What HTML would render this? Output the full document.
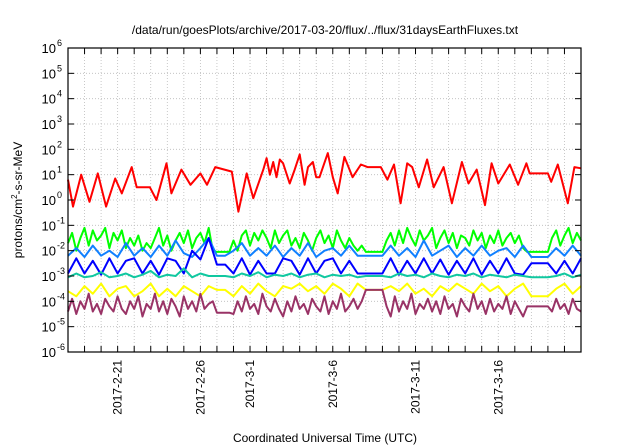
<!DOCTYPE html>
<html><head><meta charset="utf-8"><style>
html,body{margin:0;padding:0;background:#fff;}
svg{display:block;font-family:"Liberation Sans",sans-serif;}
</style></head><body>
<svg id="chart" width="640" height="448" viewBox="0 0 640 448" xmlns="http://www.w3.org/2000/svg">
<text x="325" y="34" font-size="12" text-anchor="middle">/data/run/goesPlots/archive/2017-03-20/flux/../flux/31daysEarthFluxes.txt</text>
<text x="325" y="442" font-size="12" text-anchor="middle">Coordinated Universal Time (UTC)</text>
<text transform="translate(22,200) rotate(-90)" font-size="12" text-anchor="middle">protons/cm<tspan dy="-5" font-size="8">2</tspan><tspan dy="5">-s-sr-MeV</tspan></text>
<g id="grid"></g><g id="series"></g><g id="axes"></g>
</svg>
<script>
const yDecades=[-6,-5,-4,-3,-2,-1,0,1,2,3,4,5,6];
const xTickDays=[3,8,11,16,21,26];
const xTickLabels=["2017-2-21","2017-2-26","2017-3-1","2017-3-6","2017-3-11","2017-3-16"];
const redT=[0,0.3,0.8,1.3,1.8,2.3,2.85,3.25,3.85,4.15,4.95,5.35,5.95,6.25,6.85,7.4,8.0,8.4,8.9,9.9,10.3,10.8,11.2,11.8,12.0,12.2,12.4,12.6,12.8,13.0,13.4,13.7,14.0,14.3,14.5,14.8,15.0,15.2,15.7,16.0,16.3,16.7,17.2,17.7,18.1,18.9,19.3,19.7,20.1,20.5,20.8,21.2,21.7,22.1,22.7,23.2,23.8,24.2,24.7,25.2,25.6,26.0,26.7,27.2,27.7,27.9,29.0,29.2,29.6,30.2,30.6,31];
const redV=[0.8,-0.26,1.0,-0.07,1.05,-0.26,0.85,0.26,1.3,0.5,0.5,0.0,1.45,0.26,1.2,0.6,1.05,0.6,1.3,1.12,-0.46,1.05,0.07,1.2,1.65,1.0,1.5,0.9,1.6,1.45,0.65,1.2,1.8,0.6,1.3,1.5,0.9,0.9,1.85,0.9,0.26,1.7,0.9,1.4,1.3,1.3,0.8,1.4,-0.13,1.45,1.3,0.5,1.6,0.5,1.3,-0.13,1.5,0.65,1.2,-0.2,1.45,0.65,1.4,0.6,1.45,1.05,1.05,0.72,1.4,-0.13,1.3,1.25];
const greenV=[-1.7,-1.3,-2.0,-1.5,-1.1,-1.8,-1.2,-1.6,-1.4,-1.1,-1.9,-1.3,-1.6,-1.2,-1.9,-1.5,-1.8,-1.4,-2.0,-1.7,-1.9,-1.5,-1.1,-1.8,-1.4,-2.0,-1.6,-1.3,-1.7,-1.2,-1.9,-1.5,-1.3,-1.7,-1.1,-2.0,-2.05,-2.05,-2.05,-2.05,-1.6,-2.0,-1.4,-1.2,-1.8,-1.3,-1.6,-1.2,-1.5,-1.9,-1.2,-1.7,-1.4,-1.2,-1.8,-1.5,-1.9,-1.3,-1.6,-2.0,-1.5,-1.2,-1.7,-1.4,-1.9,-1.2,-1.6,-1.9,-1.5,-1.8,-2.0,-1.8,-2.05,-2.05,-2.05,-2.05,-2.05,-1.6,-1.3,-1.8,-1.2,-1.7,-1.1,-1.5,-1.8,-1.2,-1.6,-1.4,-1.1,-1.9,-1.5,-1.2,-1.7,-1.3,-1.9,-1.4,-1.5,-1.8,-1.2,-1.6,-1.3,-1.9,-1.4,-1.7,-1.2,-1.8,-1.5,-1.3,-1.7,-1.4,-1.9,-2.05,-2.05,-2.05,-2.05,-2.05,-2.05,-1.5,-1.2,-1.8,-1.4,-1.1,-1.7,-1.3,-1.6];
const lightBlueV=[-2.2,-1.9,-2.25,-1.8,-2.2,-2.0,-2.25,-1.7,-2.2,-1.9,-2.25,-1.8,-2.2,-1.6,-2.1,-2.25,-1.9,-1.5,-2.2,-2.2,-2.0,-1.7,-2.2,-1.9,-2.2,-1.8,-2.25,-1.9,-2.2,-1.7,-2.25,-2.0,-1.9,-2.2,-1.8,-2.2,-2.2,-2.2,-2.2,-1.8,-2.2,-1.9,-2.25,-1.6,-2.2,-2.0,-1.8,-2.25,-1.9,-2.2,-1.8,-2.2,-2.0,-1.9,-2.25,-1.8,-2.25,-2.25,-2.25,-1.9,-2.2,-1.8,-2.2];
const blueV=[-2.9,-2.3,-2.9,-2.4,-2.95,-2.3,-2.9,-2.4,-2.3,-2.9,-2.4,-2.95,-2.3,-2.4,-2.9,-2.0,-2.35,-1.5,-2.55,-2.55,-2.9,-2.3,-2.95,-2.4,-2.9,-2.9,-2.3,-2.4,-2.95,-2.3,-2.9,-2.4,-2.3,-2.9,-2.4,-2.9,-2.9,-2.9,-2.9,-2.3,-2.95,-2.4,-2.9,-2.3,-2.9,-2.35,-2.95,-2.4,-2.9,-2.3,-2.95,-2.4,-2.9,-2.3,-2.9,-2.95,-2.5,-2.5,-2.5,-2.9,-2.4,-2.9,-2.3];
const tealV=[-3.05,-2.9,-3.05,-3.0,-2.85,-3.05,-3.0,-2.9,-3.05,-2.95,-2.8,-3.05,-2.95,-3.0,-2.7,-3.05,-2.9,-3.0,-3.0,-3.0,-3.05,-2.9,-3.0,-2.85,-3.05,-2.95,-3.0,-2.9,-3.05,-2.95,-2.9,-3.05,-2.95,-3.0,-2.95,-3.05,-3.0,-3.0,-3.0,-3.05,-2.9,-3.0,-2.95,-3.05,-2.9,-3.0,-3.05,-2.95,-3.0,-2.9,-3.05,-2.95,-3.0,-3.05,-2.95,-3.0,-3.05,-3.05,-3.05,-3.0,-2.9,-3.05,-2.95];
const yellowV=[-3.6,-3.8,-3.4,-3.7,-3.3,-3.8,-3.5,-3.4,-3.8,-3.6,-3.3,-3.8,-3.5,-3.8,-3.4,-3.6,-3.8,-3.4,-3.55,-3.55,-3.8,-3.4,-3.7,-3.3,-3.6,-3.8,-3.4,-3.5,-3.3,-3.6,-3.4,-3.7,-3.3,-3.5,-3.8,-3.3,-3.55,-3.55,-3.55,-3.4,-3.6,-3.3,-3.7,-3.5,-3.8,-3.4,-3.6,-3.3,-3.5,-3.7,-3.3,-3.6,-3.4,-3.8,-3.5,-3.3,-3.8,-3.8,-3.8,-3.5,-3.3,-3.7,-3.4];
const purpleV=[-4.4,-3.9,-4.5,-4.0,-4.3,-3.7,-4.4,-4.1,-4.5,-3.9,-4.2,-4.4,-3.8,-4.3,-4.5,-4.0,-4.3,-3.8,-4.6,-4.1,-4.3,-3.7,-4.4,-4.0,-4.5,-3.9,-4.2,-4.6,-3.8,-4.3,-4.0,-4.4,-3.7,-4.3,-4.1,-4.0,-4.45,-4.45,-4.45,-4.45,-4.5,-4.0,-4.4,-3.8,-4.3,-4.1,-4.5,-3.7,-4.2,-4.4,-3.9,-4.3,-4.6,-4.0,-4.4,-3.8,-4.3,-4.1,-4.5,-3.9,-4.2,-4.4,-3.8,-4.5,-4.0,-4.3,-3.7,-4.4,-4.2,-3.9,-4.3,-4.0,-3.55,-3.55,-3.55,-3.55,-3.55,-4.2,-4.6,-3.8,-4.4,-4.0,-4.3,-3.7,-4.5,-4.1,-4.3,-3.9,-4.4,-4.0,-4.5,-3.8,-4.3,-4.1,-4.6,-3.9,-4.2,-4.4,-3.7,-4.3,-4.0,-4.5,-3.9,-4.4,-4.1,-4.3,-3.8,-4.5,-4.0,-4.3,-4.6,-4.2,-4.2,-4.2,-4.2,-4.2,-4.2,-4.4,-3.9,-4.3,-4.1,-4.5,-3.9,-4.3,-4.4];

const L=68,R=581,T=48,B=352,NS="http://www.w3.org/2000/svg";
const X=d=>L+(d/31)*(R-L);
const Y=v=>B-((v+6)/12)*(B-T);
function el(tag,attrs,parent){const e=document.createElementNS(NS,tag);for(const k in attrs)e.setAttribute(k,attrs[k]);parent.appendChild(e);return e;}
const grid=document.getElementById('grid'),axes=document.getElementById('axes'),ser=document.getElementById('series');
for(let d=1;d<31;d++){
  const g=el('line',{x1:X(d),x2:X(d),y1:T,y2:B,stroke:'#bbb','stroke-width':0.8,'stroke-dasharray':'1,2'},grid);
  
  
  const t1=el('line',{x1:X(d),x2:X(d),y1:B,y2:B-6,stroke:'#000','stroke-width':1},axes);
  
  
  const t2=el('line',{x1:X(d),x2:X(d),y1:T,y2:T+6,stroke:'#000','stroke-width':1},axes);
  
  
}
yDecades.forEach(p=>{
  const y=Y(p);
  if(p>-6&&p<6){
    const g=el('line',{x1:L,x2:R,y1:y,y2:y,stroke:'#bbb','stroke-width':0.8,'stroke-dasharray':'1,2'},grid);
    
    
    const a=el('line',{x1:L,x2:L+6,y1:y,y2:y,stroke:'#000'},axes);
    
    
    const b=el('line',{x1:R,x2:R-6,y1:y,y2:y,stroke:'#000'},axes);
    
    
  }
  const t=el('text',{x:56,y:y+5,'font-size':13,'text-anchor':'end'},axes);
  
  
  t.textContent='10';
  const s=el('tspan',{x:57,dy:-7,'font-size':9,'text-anchor':'start'},t);
  s.textContent=String(p);
});
xTickDays.forEach((d,i)=>{
  const t=el('text',{transform:`translate(${X(d)+4},360) rotate(-90)`,'font-size':12,'text-anchor':'end'},axes);
  
  
  t.textContent=xTickLabels[i];
});
const frame=el('rect',{x:L,y:T,width:R-L,height:B-T,fill:'none',stroke:'#000','stroke-width':1.2},axes);


function draw(ts,vs,color,name){
  const pts=vs.map((v,i)=>X(ts[i]).toFixed(1)+','+Y(v).toFixed(1)).join(' ');
  const p=el('polyline',{points:pts,fill:'none',stroke:color,'stroke-width':2,'stroke-linejoin':'round'},ser);
  
  
}
const step=(vs,dt)=>vs.map((_,i)=>i*dt);
draw(step(greenV,0.25),greenV,'#00ff00','series-green');
draw(step(lightBlueV,0.5),lightBlueV,'#1080ff','series-light-blue');
draw(step(blueV,0.5),blueV,'#0000ff','series-blue');
draw(step(tealV,0.5),tealV,'#10c8a0','series-teal');
draw(step(yellowV,0.5),yellowV,'#ffff00','series-yellow');
draw(step(purpleV,0.25),purpleV,'#993366','series-purple');
draw(redT,redV,'#ff0000','series-red');
</script>
</body></html>
